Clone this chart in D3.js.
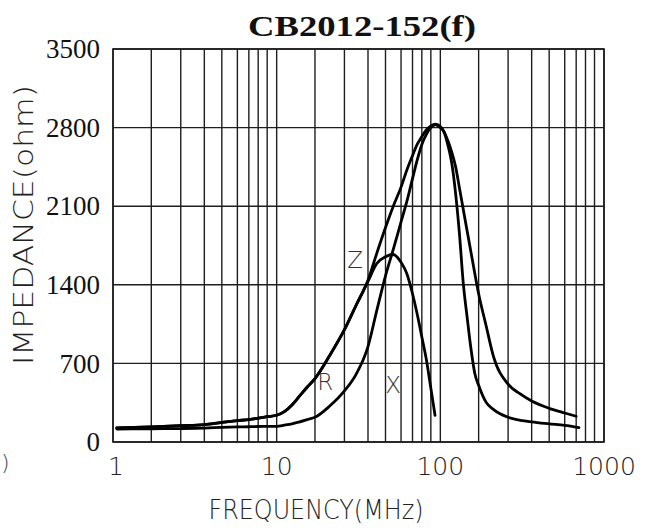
<!DOCTYPE html>
<html>
<head>
<meta charset="utf-8">
<script src="https://cdn.jsdelivr.net/npm/d3@7/dist/d3.min.js"></script>
<style>
  html, body { margin: 0; padding: 0; background: #fff; }
  svg { display: block; }
</style>
</head>
<body>
<svg id="chart" width="646" height="531"></svg>
<script>
// ---------------- DATA ----------------
const chartTitle = "CB2012-152(f)";
const xAxisTitle = "FREQUENCY(MHz)";
const yAxisTitle = "IMPEDANCE(ohm)";

const xTickLabels = [1, 10, 100, 1000];
const yTickLabels = [0, 700, 1400, 2100, 2800, 3500];

// Z curve (MHz, ohm)
const zFreq = [1.1, 2, 3, 4, 5, 6, 7, 8, 9, 10, 12, 14, 16, 18, 20, 25, 30, 35, 40, 45, 50, 55, 60, 65, 70, 75, 80, 85, 90, 95, 100, 110, 120, 130, 140, 150, 160, 170, 180, 190, 200, 225, 250, 300, 350, 400, 500, 600, 700];
const zVals = [125, 135, 145, 155, 175, 190, 200, 212, 225, 238, 270, 330, 410, 490, 565, 770, 1000, 1220, 1440, 1680, 1910, 2100, 2270, 2420, 2550, 2650, 2720, 2780, 2815, 2830, 2810, 2760, 2680, 2580, 2450, 2260, 2070, 1880, 1690, 1500, 1320, 1040, 765, 515, 430, 365, 300, 258, 229];

// R curve
const rFreq = [1.1, 2, 3, 4, 5, 6, 7, 8, 9, 10, 12, 14, 16, 18, 20, 25, 30, 35, 40, 45, 50, 55, 60, 65, 70, 75, 80, 85, 90, 95, 100, 110, 120, 130, 140, 150, 160, 170, 180, 190, 200, 225, 250, 300, 400, 500, 600, 730];
const rVals = [115, 118, 120, 124, 130, 134, 136, 138, 139, 140, 150, 162, 180, 200, 220, 320, 455, 605, 850, 1170, 1480, 1715, 1960, 2140, 2345, 2510, 2650, 2740, 2800, 2825, 2800, 2760, 2640, 2480, 2210, 1850, 1410, 1110, 830, 610, 505, 355, 290, 220, 180, 162, 148, 128];

// X curve
const xFreq = [1.1, 2, 3, 4, 5, 6, 7, 8, 9, 10, 12, 14, 16, 18, 20, 25, 30, 35, 40, 45, 50, 55, 60, 65, 70, 75, 80, 85, 90, 94.4];
const xVals = [125, 135, 145, 155, 175, 190, 200, 212, 225, 238, 270, 330, 410, 490, 565, 770, 1000, 1220, 1430, 1590, 1650, 1670, 1600, 1500, 1320, 1140, 935, 735, 480, 238];

// curve labels (freq, value)
const curveLabels = ["Z", "R", "X"];
const labelFreq = [34.5, 23.5, 54.9];
const labelVals = [1620, 537, 506];

// ---------------- LAYOUT ----------------
const svg = d3.select("#chart");
const pL = 113, pR = 604, pT = 49, pB = 442;
const decW = (pR - pL) / 3;
// position of 1..9 inside each decade, as drawn on the original grid paper
const minorFrac = [0, 0.234, 0.414, 0.558, 0.665, 0.76, 0.83, 0.887, 0.942];

const gridVals = [];
const gridPos = [];
[1, 10, 100].forEach((d, di) => {
  for (let k = 1; k <= 9; k++) {
    gridVals.push(k * d);
    gridPos.push(pL + (di + minorFrac[k - 1]) * decW);
  }
});
gridVals.push(1000);
gridPos.push(pR);

const xS = d3.scaleLinear().domain(gridVals).range(gridPos);
const yS = d3.scaleLinear().domain([0, 3500]).range([pB, pT]);

const gridColor = "#1e1e1e";

// vertical grid
svg.append("g").selectAll("line").data(gridVals).join("line")
  .attr("x1", d => xS(d)).attr("x2", d => xS(d))
  .attr("y1", pT).attr("y2", pB)
  .attr("stroke", gridColor).attr("stroke-width", 1.4);

// horizontal grid
svg.append("g").selectAll("line").data(yTickLabels).join("line")
  .attr("x1", pL).attr("x2", pR)
  .attr("y1", d => yS(d)).attr("y2", d => yS(d))
  .attr("stroke", gridColor).attr("stroke-width", 1.4);

// border
svg.append("rect").attr("x", pL).attr("y", pT)
  .attr("width", pR - pL).attr("height", pB - pT)
  .attr("fill", "none").attr("stroke", gridColor).attr("stroke-width", 1.6);

// y tick labels
svg.append("g").selectAll("text").data(yTickLabels).join("text")
  .attr("x", 100).attr("y", d => yS(d)).attr("dy", "0.34em")
  .attr("text-anchor", "end")
  .attr("font-family", "'Liberation Serif', 'Times New Roman', serif")
  .attr("font-size", 27).attr("fill", "#111")
  .text(d => d);

// x tick labels
svg.append("g").selectAll("text").data(xTickLabels).join("text")
  .attr("x", d => xS(d) + (d === 1 ? 3 : 0)).attr("y", 475)
  .attr("text-anchor", "middle")
  .attr("font-family", "'DejaVu Sans', sans-serif")
  .attr("font-weight", 200)
  .attr("font-size", 25).attr("fill", "#222")
  .text(d => d);

// title
svg.append("text").attr("x", 362).attr("y", 36)
  .attr("text-anchor", "middle")
  .attr("font-family", "'Liberation Serif', serif").attr("font-weight", "bold")
  .attr("font-size", 30).attr("fill", "#111")
  .attr("textLength", 228).attr("lengthAdjust", "spacingAndGlyphs")
  .text(chartTitle);

// axis titles
svg.append("text").attr("x", 316).attr("y", 519)
  .attr("text-anchor", "middle")
  .attr("font-family", "'DejaVu Sans', sans-serif").attr("font-weight", 200)
  .attr("font-size", 26).attr("fill", "#222")
  .attr("textLength", 215).attr("lengthAdjust", "spacingAndGlyphs")
  .text(xAxisTitle);

svg.append("text")
  .attr("transform", "translate(33,225) rotate(-90)")
  .attr("text-anchor", "middle")
  .attr("font-family", "'DejaVu Sans', sans-serif").attr("font-weight", 200)
  .attr("font-size", 26).attr("fill", "#222")
  .attr("textLength", 280).attr("lengthAdjust", "spacingAndGlyphs")
  .text(yAxisTitle);

// small fragment at far left edge
svg.append("text").attr("x", 1).attr("y", 470)
  .attr("font-family", "'DejaVu Sans', sans-serif").attr("font-weight", 200)
  .attr("font-size", 22).attr("fill", "#444")
  .text(")");

// curves
const line = d3.line().x(d => xS(d[0])).y(d => yS(d[1])).curve(d3.curveMonotoneX);
const series = [
  d3.zip(zFreq, zVals),
  d3.zip(rFreq, rVals),
  d3.zip(xFreq, xVals)
];
svg.append("g").selectAll("path").data(series).join("path")
  .attr("d", line)
  .attr("fill", "none").attr("stroke", "#000")
  .attr("stroke-width", 2.8).attr("stroke-linejoin", "round").attr("stroke-linecap", "round");

// curve labels
svg.append("g").selectAll("text").data(curveLabels).join("text")
  .attr("x", (d, i) => xS(labelFreq[i])).attr("y", (d, i) => yS(labelVals[i]))
  .attr("dy", "0.36em").attr("text-anchor", "middle")
  .attr("font-family", "'DejaVu Sans', sans-serif").attr("font-weight", 200)
  .attr("font-size", 23).attr("fill", "#333")
  .text(d => d);
</script>
</body>
</html>
